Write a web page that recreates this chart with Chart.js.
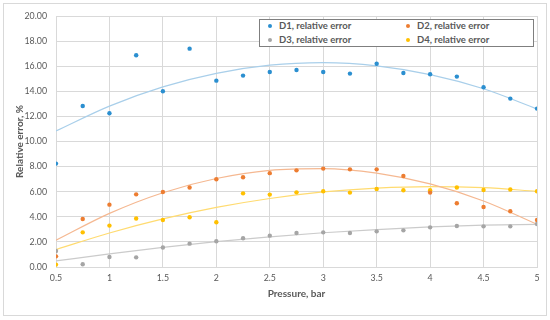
<!DOCTYPE html>
<html>
<head>
<meta charset="utf-8">
<script src="https://cdn.jsdelivr.net/npm/chart.js@4/dist/chart.umd.min.js"></script>
<style>
  html, body { margin: 0; padding: 0; background: #ffffff; }
  #wrap { position: relative; width: 550px; height: 320px; }
  #legend {
    position: absolute; left: 259px; top: 19px; width: 273px; height: 26px;
    border: 1px solid #7f7f7f; background: #ffffff;
    font-family: Lato, "Open Sans", sans-serif; font-weight: bold; font-size: 9.5px; color: #595959;
  }
  .item { position: absolute; white-space: nowrap; line-height: 12px; height: 12px; }
  .dot { position: absolute; width: 4px; height: 4px; border-radius: 50%; top: 4px; left: 0; }
  .txt { position: absolute; left: 11px; top: 0; }
</style>
</head>
<body>
<div id="wrap">
  <canvas id="c" width="550" height="320"></canvas>
  <div id="legend"></div>
</div>
<script>
// ---- data ----
const pressure = [0.5, 0.75, 1, 1.25, 1.5, 1.75, 2, 2.25, 2.5, 2.75, 3, 3.25, 3.5, 3.75, 4, 4.25, 4.5, 4.75, 5];
const d1 = [8.24, 12.83, 12.25, 16.87, 14.0, 17.4, 14.85, 15.25, 15.54, 15.7, 15.54, 15.41, 16.2, 15.46, 15.36, 15.17, 14.32, 13.42, 12.62];
const d2 = [0.85, 3.83, 4.97, 5.79, 5.98, 6.33, 6.99, 7.15, 7.48, 7.7, 7.84, 7.78, 7.78, 7.25, 5.93, 5.08, 4.78, 4.44, 3.75];
const d3 = [1.28, 0.22, 0.8, 0.77, 1.55, 1.86, 2.05, 2.29, 2.5, 2.71, 2.76, 2.71, 2.84, 2.92, 3.16, 3.27, 3.24, 3.24, 3.43];
const d4 = [0.19, 2.76, 3.3, 3.86, 3.75, 3.96, 3.56, 5.87, 5.77, 5.95, 6.03, 5.93, 6.21, 6.11, 6.11, 6.33, 6.14, 6.17, 6.03];

// trendline curves
const trendPressure = [0.5, 1, 1.5, 2, 2.5, 3, 3.5, 4, 4.5, 5];
const t1 = [10.84, 12.82, 14.35, 15.43, 16.08, 16.28, 16.03, 15.33, 14.2, 12.6];
const t2 = [2.13, 4.27, 5.92, 7.05, 7.7, 7.84, 7.48, 6.62, 5.26, 3.4];
const t3 = [0.48, 1.05, 1.56, 2.02, 2.4, 2.73, 2.98, 3.19, 3.33, 3.4];
const t4 = [1.39, 2.71, 3.83, 4.75, 5.46, 5.98, 6.29, 6.41, 6.32, 6.03];

const seriesNames = ["D1, relative error", "D2, relative error", "D3, relative error", "D4, relative error"];
const xTitle = "Pressure, bar";
const yTitle = "Relative error, %";

const colors = ["#2B8FD0", "#ED7D31", "#A5A5A5", "#FFC000"];
const trendColors = ["#A9CFEA", "#F5B891", "#CBCBCB", "#FFDB70"];

const pts = (xs, ys) => xs.map((x, i) => ({ x: x, y: ys[i] }));
const seriesVals = [d1, d2, d3, d4];
const trendVals = [t1, t2, t3, t4];

const datasets = [];
seriesVals.forEach((v, i) => {
  datasets.push({
    label: seriesNames[i], data: pts(pressure, v),
    backgroundColor: colors[i], borderColor: colors[i],
    pointRadius: 2.2, pointBorderWidth: 0, showLine: false, order: 1
  });
});
trendVals.forEach((v, i) => {
  datasets.push({
    label: seriesNames[i] + " trend", data: pts(trendPressure, v),
    borderColor: trendColors[i], backgroundColor: trendColors[i],
    borderWidth: 1.2, pointRadius: 0, showLine: true,
    cubicInterpolationMode: 'monotone', order: 2
  });
});

const frame = {
  id: 'frame',
  beforeDraw(chart) {
    const ctx = chart.ctx;
    ctx.save();
    ctx.fillStyle = '#ffffff';
    ctx.fillRect(0, 0, chart.width, chart.height);
    ctx.strokeStyle = '#d9d9d9';
    ctx.lineWidth = 1;
    ctx.strokeRect(3.5, 3.5, 543, 312);
    ctx.restore();
  }
};

const tickFont = { family: 'Lato, "Open Sans", sans-serif', size: 8.8 };
const titleFont = { family: 'Lato, "Open Sans", sans-serif', size: 10, weight: 'bold' };

new Chart(document.getElementById('c'), {
  type: 'scatter',
  data: { datasets: datasets },
  plugins: [frame],
  options: {
    responsive: false,
    animation: false,
    layout: { padding: { left: 0, right: 13, top: 16, bottom: 0 } },
    plugins: { legend: { display: false }, tooltip: { enabled: false } },
    scales: {
      x: {
        type: 'linear', min: 0.5, max: 5,
        ticks: { stepSize: 0.5, color: '#595959', font: tickFont, padding: 6,
                 callback: v => String(Math.round(v * 100) / 100) },
        grid: { color: '#d9d9d9', drawTicks: false },
        border: { color: '#d9d9d9' },
        title: { display: true, text: xTitle, color: '#595959', font: titleFont, padding: { top: 0, bottom: 20 } },
        afterFit(s) { s.height = 53; }
      },
      y: {
        type: 'linear', min: 0, max: 20,
        ticks: { stepSize: 2, color: '#595959', font: tickFont, padding: 9,
                 callback: v => Number(v).toFixed(2) },
        grid: { color: '#d9d9d9', drawTicks: false },
        border: { color: '#d9d9d9' },
        title: { display: true, text: yTitle, color: '#595959', font: titleFont, padding: { top: 13.5, bottom: 0 } },
        afterFit(s) { s.width = 56; }
      }
    }
  }
});

// legend (HTML overlay)
const legendPos = [[10, 4], [148, 4], [10, 18], [148, 18]];
const order = [0, 1, 2, 3];
const lg = document.getElementById('legend');
order.forEach((k, j) => {
  const it = document.createElement('div');
  it.className = 'item';
  it.style.left = (legendPos[j][0] - 2) + 'px';
  it.style.top = (legendPos[j][1] - 6 + 2) + 'px';
  const dot = document.createElement('span');
  dot.className = 'dot'; dot.style.background = colors[k];
  const tx = document.createElement('span');
  tx.className = 'txt'; tx.textContent = seriesNames[k];
  it.appendChild(dot); it.appendChild(tx);
  lg.appendChild(it);
});
</script>
</body>
</html>
